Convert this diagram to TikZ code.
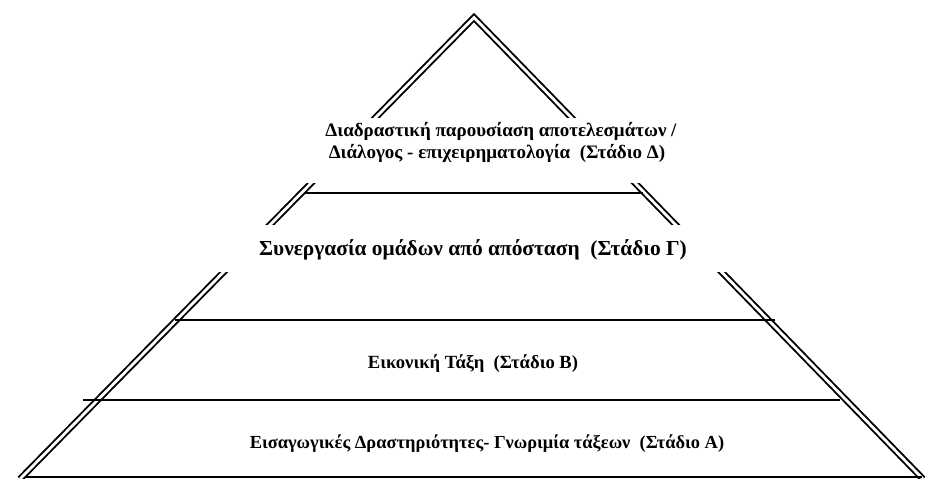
\documentclass[tikz,border=0pt]{standalone}
\usepackage{fontspec}
\setmainfont{Liberation Serif}
\usepackage{tikz}

\begin{document}
\begin{tikzpicture}[x=1pt, y=-1pt,
		pyrside/.style={double, line width=1.9pt, double distance=2.8pt},
		levelline/.style={line width=1.3pt},
		gapmask/.style={fill=white},
		stagetext/.style={anchor=base, font=\bfseries\fontsize{#1}{#1}\selectfont, align=center, inner sep=0pt}]
			%%%%% START %%%%%
			\useasboundingbox (0, 0) rectangle (927, 479);
			
			\draw[pyrside] (20, 479) -- (474, 17.5) -- (923, 479);
			
			\fill[gapmask] (290, 118) rectangle (710, 183);
			\fill[gapmask] (205, 225) rectangle (745, 272);
			
			\draw[levelline] (305, 193) -- (643, 193);
			\draw[levelline] (175, 320) -- (775, 320);
			\draw[levelline] (83, 400) -- (840, 400);
			\draw[line width=2pt] (25, 477) -- (922, 477);
			
			\node[stagetext=19] (stageD1) at (501, 136) {Διαδραστική παρουσίαση αποτελεσμάτων /};
			\node[stagetext=19] (stageD2) at (497, 158) {Διάλογος - επιχειρηματολογία~ (Στάδιο Δ)};
			\node[stagetext=21.4] (stageG) at (473, 255) {Συνεργασία ομάδων από απόσταση~ (Στάδιο Γ)};
			\node[stagetext=18.6] (stageB) at (473, 368) {Εικονική Τάξη~ (Στάδιο Β)};
			\node[stagetext=18.4] (stageA) at (487, 448) {Εισαγωγικές Δραστηριότητες- Γνωριμία τάξεων~ (Στάδιο Α)};
			
			%%%%% END %%%%%
\end{tikzpicture}
\end{document}
